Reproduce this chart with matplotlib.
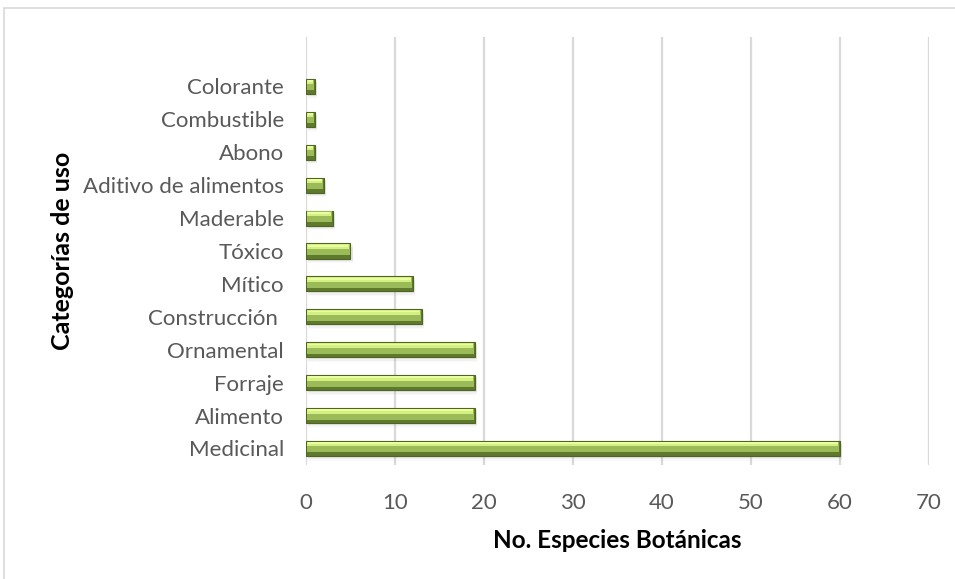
import matplotlib.pyplot as plt
from matplotlib.patches import Rectangle
import numpy as np

categorias = ["Medicinal", "Alimento", "Forraje", "Ornamental", "Construcción ",
              "Mítico", "Tóxico", "Maderable", "Aditivo de alimentos", "Abono",
              "Combustible", "Colorante"]
especies = [60, 19, 19, 19, 13, 12, 5, 3, 2, 1, 1, 1]

plt.rcParams['font.family'] = ['Lato', 'DejaVu Sans']

fig = plt.figure(figsize=(9.55, 5.79), dpi=100)
ax = fig.add_axes([0.3204, 0.197, 0.6524, 0.739])

y = np.arange(len(categorias))
h = 0.46

# soft drop shadow
for k, a in enumerate([0.10, 0.07, 0.04]):
    ax.barh(y - 0.06 - 0.04 * k, especies, height=h, left=0.25,
            color='#808080', alpha=a, linewidth=0, zorder=2)

# bevelled bar: dark base, body, light top strip
ax.barh(y, especies, height=h, color='#5f7a2c', edgecolor='#4f6524',
        linewidth=0.8, zorder=3)
ax.barh(y + 0.04, np.array(especies) - 0.2, left=0.1, height=h - 0.14,
        color='#9bbb59', linewidth=0, zorder=4)
ax.barh(y + 0.13, np.array(especies) - 0.35, left=0.15, height=h * 0.3,
        color='#d4ef82', linewidth=0, zorder=5)
ax.barh(y + 0.16, np.array(especies) - 0.5, left=0.25, height=h * 0.12,
        color='#eaff9e', linewidth=0, zorder=6)

ax.set_xlim(0, 70)
ax.set_ylim(-0.5, 12.5)
ax.set_xticks(np.arange(0, 71, 10))
ax.set_yticks(y)
ax.set_yticklabels(categorias)
ax.tick_params(axis='both', length=0, labelsize=16, colors='#595959')
ax.tick_params(axis='x', pad=20)
ax.tick_params(axis='y', pad=16)
ax.grid(axis='x', color='#d9d9d9', linewidth=1.6, zorder=0)
ax.set_axisbelow(True)
for s in ax.spines.values():
    s.set_visible(False)

ax.set_xlabel("No. Especies Botánicas", fontsize=17.5, fontweight='bold',
              color='black', labelpad=12)
fig.text(0.065, 0.566, "Categorías de uso", rotation=90, fontsize=18,
         fontweight='bold', ha='center', va='center')

fig.patches.append(Rectangle((4 / 955, -0.05), 1.2, 1.05 - 8 / 579,
                             transform=fig.transFigure, fill=False,
                             edgecolor='#d9d9d9', linewidth=1.2))

fig.savefig("out.png", dpi=100)
